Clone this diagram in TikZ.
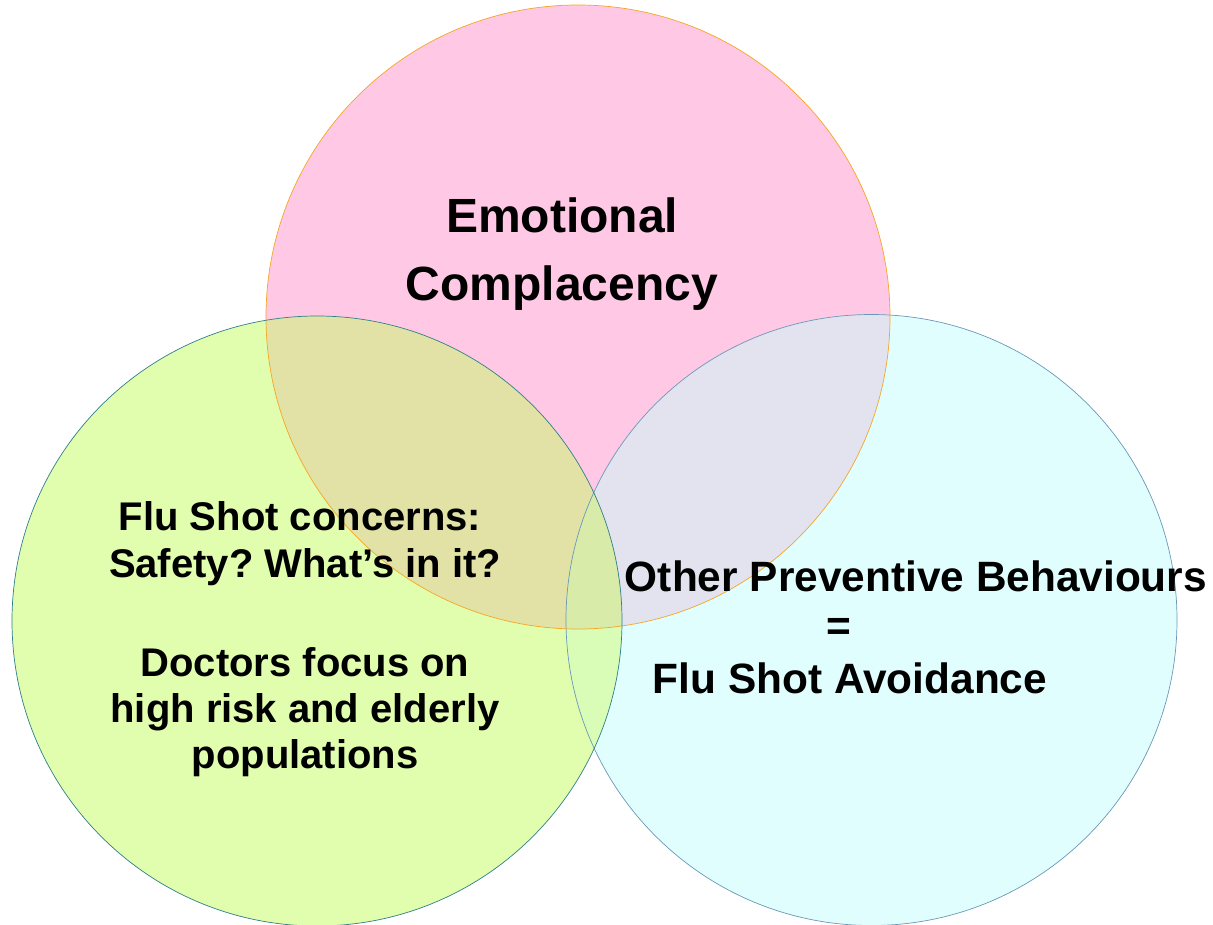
\documentclass[tikz,border=0pt]{standalone}
\usepackage{fontspec}
\setmainfont{Liberation Sans}
\frenchspacing

\definecolor{pinkfill}{HTML}{FFC9E5}
\definecolor{greenfill}{HTML}{E1FDAE}
\definecolor{cyanfill}{HTML}{E1FEFE}
\definecolor{pinkgreen}{HTML}{E2E2A6}
\definecolor{pinkcyan}{HTML}{E3E3EF}
\definecolor{greencyan}{HTML}{D9FDB6}
\definecolor{allthree}{HTML}{D9EBA8}
\definecolor{pinkline}{HTML}{F5A623}
\definecolor{greenline}{HTML}{2E7F8A}
\definecolor{cyanline}{HTML}{6A98B8}

\begin{document}
\begin{tikzpicture}[x=1pt,y=-1pt,
  big/.style={font=\bfseries\fontsize{48}{56}\selectfont,anchor=base,inner sep=0pt},
  mid/.style={font=\bfseries\fontsize{42.4}{48}\selectfont,anchor=base,inner sep=0pt},
  small/.style={font=\bfseries\fontsize{40}{46}\selectfont,anchor=base,inner sep=0pt}]
\useasboundingbox (0,0) rectangle (1213,924);
\clip (0,0) rectangle (1213,924);

% circle centres
\coordinate (emotion) at (578,317);
\coordinate (concern) at (317,621);
\coordinate (prevent) at (871.5,620);

% plain fills
\fill[pinkfill]  (emotion) circle[radius=312pt];
\fill[greenfill] (concern) circle[radius=305pt];
\fill[cyanfill]  (prevent) circle[radius=305.5pt];

% overlaps
\begin{scope}
  \clip (emotion) circle[radius=312pt];
  \fill[pinkgreen] (concern) circle[radius=305pt];
  \fill[pinkcyan]  (prevent) circle[radius=305.5pt];
\end{scope}
\begin{scope}
  \clip (concern) circle[radius=305pt];
  \fill[greencyan] (prevent) circle[radius=305.5pt];
  \clip (prevent) circle[radius=305.5pt];
  \fill[allthree]  (emotion) circle[radius=312pt];
\end{scope}

% outlines
\draw[cyanline,line width=0.7pt]  (prevent) circle[radius=305.5pt];
\draw[pinkline,line width=0.7pt]  (emotion) circle[radius=312pt];
\draw[greenline,line width=0.7pt] (concern) circle[radius=305pt];

% labels
\node[big] (emo1) at (562,232) {Emotional};
\node[big] (emo2) at (562,300) {Complacency};

\node[small] (flu1) at (300,530) {Flu Shot concerns:};
\node[small] (flu2) at (305,577) {Safety? What’s in it?};
\node[small] (doc1) at (305,676) {Doctors focus on};
\node[small] (doc2) at (305,722) {high risk and elderly};
\node[small] (doc3) at (305,768) {populations};

\node[mid] (oth1) at (916,591) {Other Preventive Behaviours};
\node[mid] (oth2) at (839,640) {=};
\node[mid] (oth3) at (850,693) {Flu Shot Avoidance};
\end{tikzpicture}
\end{document}
